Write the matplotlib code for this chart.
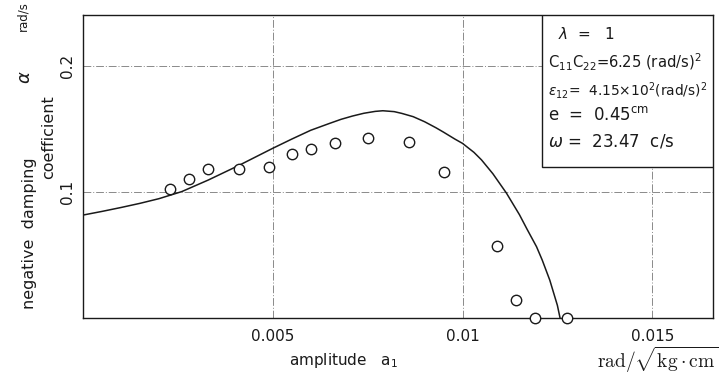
import matplotlib
matplotlib.use("Agg")
import matplotlib.pyplot as plt
from matplotlib.patches import Rectangle

plt.rcParams['font.family'] = ['DejaVu Sans']
plt.rcParams['mathtext.fontset'] = 'dejavusans'

# Calculated negative damping coefficient vs amplitude
curve_amp = [0, 0.0005, 0.001, 0.0015, 0.002, 0.0026, 0.0033, 0.0041, 0.005,
             0.0055, 0.006, 0.0065, 0.0068, 0.0071, 0.0074, 0.0077, 0.0079,
             0.0082, 0.0084, 0.0087, 0.009, 0.0093, 0.0095, 0.0098, 0.01,
             0.0103, 0.0105, 0.0108, 0.01116, 0.0113, 0.0115, 0.0117, 0.01195,
             0.0121, 0.0123, 0.0125, 0.01257]
curve_alpha = [0.0817, 0.0846, 0.0877, 0.091, 0.0947, 0.1003, 0.1095, 0.1210,
               0.1347, 0.1420, 0.1490, 0.1545, 0.1577, 0.1603, 0.1625, 0.1640,
               0.1645, 0.1638, 0.1624, 0.1598, 0.1558, 0.1510, 0.1475, 0.1420,
               0.1386, 0.1315, 0.1255, 0.1145, 0.0990, 0.0920, 0.0820, 0.0705,
               0.0566, 0.0460, 0.0300, 0.0100, 0.0]

# Measured values
meas_amp = [0.0023, 0.0028, 0.0033, 0.0041, 0.0049, 0.0055, 0.0060, 0.00665,
            0.0075, 0.0086, 0.0095, 0.0109, 0.0114, 0.0119, 0.01275]
meas_alpha = [0.102, 0.110, 0.118, 0.118, 0.120, 0.130, 0.134, 0.139,
              0.143, 0.140, 0.116, 0.057, 0.014, 0.0, 0.0]

x_ticks = [0.005, 0.01, 0.015]
x_tick_labels = ['0.005', '0.01', '0.015']
y_ticks = [0.1, 0.2]
y_tick_labels = ['0.1', '0.2']

ink = '#1a1a1a'

fig = plt.figure(figsize=(7.2, 3.8), dpi=100)
ax = fig.add_axes([83 / 720, 62 / 380, 630 / 720, 303 / 380])
ax.set_xlim(0, 0.0166)
ax.set_ylim(0, 0.2405)

ax.plot(curve_amp, curve_alpha, color=ink, lw=1.1, zorder=3)
ax.plot(meas_amp, meas_alpha, linestyle='none', marker='o', ms=7.5,
        mfc='white', mec=ink, mew=1.0, zorder=4, clip_on=False)

ax.set_xticks(x_ticks)
ax.set_xticklabels(x_tick_labels)
ax.set_yticks(y_ticks)
ax.set_yticklabels(y_tick_labels, rotation=90, va='center')
ax.tick_params(length=0, labelsize=11, colors=ink, pad=8)
ax.tick_params(axis='y', pad=6)
ax.grid(True, color='#8a8a8a', lw=0.7, linestyle=(0, (8, 2, 1, 2)), zorder=1)
for s in ax.spines.values():
    s.set_color(ink)
    s.set_linewidth(1.0)

# Parameter box in the upper right corner
box = Rectangle((0.7286, 0.498), 1 - 0.7286, 1 - 0.498, transform=ax.transAxes,
                facecolor='white', edgecolor=ink, lw=1.0, zorder=5)
ax.add_patch(box)
tk = dict(transform=ax.transAxes, color=ink, zorder=6, va='center')
ax.text(0.754, 0.937, r'$\lambda$  =   1', fontsize=11, **tk)
ax.text(0.738, 0.845, r'C$_{11}$C$_{22}$=6.25 (rad/s)$^2$', fontsize=10.6, **tk)
ax.text(0.738, 0.752, r'$\epsilon_{12}$=  4.15$\times$10$^2$(rad/s)$^2$',
        fontsize=9.9, **tk)
ax.text(0.738, 0.670, r'e  =  0.45$^{\rm cm}$', fontsize=12, **tk)
ax.text(0.738, 0.581, r'$\omega$ =  23.47  c/s', fontsize=12, **tk)

# Axis labels
fig.text(343 / 720, 1 - 360 / 380, r'amplitude   a$_1$', ha='center', va='center',
         fontsize=11, color=ink)
fig.text(718 / 720, 1 - 360 / 380, r'$\mathrm{rad}/\sqrt{\mathrm{kg\cdot cm}}$',
         ha='right', va='center', fontsize=14, color=ink,
         math_fontfamily='cm')
fig.text(30 / 720, 1 - 233 / 380, 'negative  damping', rotation=90,
         ha='center', va='center', fontsize=11.5, color=ink)
fig.text(49 / 720, 1 - 137 / 380, 'coefficient', rotation=90,
         ha='center', va='center', fontsize=11.5, color=ink)
fig.text(25 / 720, 1 - 77 / 380, r'$\alpha$', rotation=90,
         ha='center', va='center', fontsize=13, color=ink)
fig.text(23 / 720, 1 - 16 / 380, 'rad/s', rotation=90,
         ha='center', va='center', fontsize=8.5, color=ink)

fig.savefig('out.png', dpi=100)
